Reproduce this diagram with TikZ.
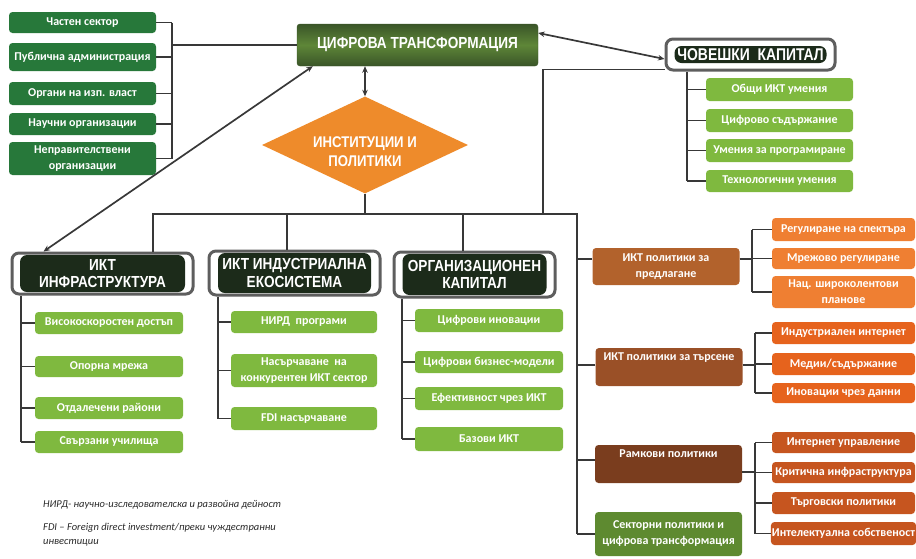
\documentclass[tikz,border=0pt]{standalone}
\usepackage{fontspec}
\setmainfont{Carlito}
\newfontfamily\hdrfam[FakeStretch=0.85]{Liberation Sans}
\newfontfamily\hdrfamw[FakeStretch=0.82]{Liberation Sans}
\usetikzlibrary{arrows.meta,shapes.geometric}
\definecolor{dgreen}{HTML}{27783A}
\definecolor{lgreen}{HTML}{7FB93F}
\definecolor{hdrdark}{HTML}{1C2B1A}
\definecolor{hdrgray}{HTML}{5E5E5E}
\definecolor{dttop}{HTML}{3A5528}
\definecolor{dtmid}{HTML}{5E8638}
\definecolor{dmorange}{HTML}{EE8B2B}
\definecolor{sorange}{HTML}{EF7F32}
\definecolor{pone}{HTML}{B2622C}
\definecolor{ptwo}{HTML}{9A5027}
\definecolor{pthree}{HTML}{7A3D1E}
\definecolor{pfour}{HTML}{5E8A30}
\definecolor{dorange}{HTML}{E6631D}
\definecolor{forange}{HTML}{C6551F}
\definecolor{lncol}{HTML}{383838}
\definecolor{fncol}{HTML}{2A2A2A}
\newcommand\bxf{\bfseries\fontsize{12}{16}\selectfont}
\newcommand\hdrf{\hdrfam\bfseries\fontsize{16}{17.5}\selectfont}
\newcommand\hcf{\hdrfamw\bfseries\fontsize{17}{19}\selectfont}
\newcommand\dmf{\hdrfam\bfseries\fontsize{15.5}{19}\selectfont}
\newcommand\fnf{\itshape\fontsize{10.5}{12}\selectfont}
\tikzset{
  ln/.style={draw=lncol, line width=1.7pt},
  arr/.style={{Stealth[length=6.5pt,width=5.5pt]}-{Stealth[length=6.5pt,width=5.5pt]}},
  bx/.style={rounded corners=3.5pt, text=white, font=\bxf, align=center, inner sep=1pt},
  dg/.style={bx, fill=dgreen, minimum width=147},
  lg/.style={bx, fill=lgreen, minimum width=147},
  so/.style={bx, fill=sorange, minimum width=143},
  do/.style={bx, fill=dorange, minimum width=143},
  fo/.style={bx, fill=forange, minimum width=143},
  pb/.style={bx, minimum width=147},
  hdr/.style 2 args={draw=hdrgray, line width=3pt, rounded corners=7pt, fill=white,
    text=white, font=\hdrf, align=center, inner sep=0pt,
    path picture={\fill[hdrdark] ([xshift=#1,yshift=-#2]path picture bounding box.north west)
      rectangle ([xshift=-#1,yshift=#2]path picture bounding box.south east);}},
  fn/.style={text=fncol, font=\fnf, anchor=west, inner sep=0pt}
}
\begin{document}
\begin{tikzpicture}[x=1pt,y=-1pt]
\useasboundingbox (0,0) rectangle (916,558);
% ---- top
\node[rounded corners=3pt, draw=dttop, top color=dttop, bottom color=dttop, middle color=dtmid,
  minimum width=241, minimum height=42, text=white, font=\hdrf, inner sep=0pt] (dt) at (417.5,45) {ЦИФРОВА ТРАНСФОРМАЦИЯ};
\node[diamond, fill=dmorange, minimum width=206, minimum height=97, inner sep=0pt] (inst) at (365,145) {};
\node[text=white, font=\dmf, align=center] (instt) at (365,152) {ИНСТИТУЦИИ И\\ПОЛИТИКИ};
% ---- left group
\node[dg, minimum height=21] (c1) at (82.5,22.5) {Частен сектор};
\node[dg, minimum height=28] (c2) at (82.5,57) {Публична администрация};
\node[dg, minimum height=23] (c3) at (82.5,93.5) {Органи на изп. власт};
\node[dg, minimum height=22] (c4) at (82.5,124) {Научни организации};
\node[dg, minimum height=33] (c5) at (82.5,158.5) {Неправителствени\\организации};
% ---- human capital
\node[hdr={8.5}{7}, font=\hcf, minimum width=169, minimum height=31] (hc) at (750.5,54.5) {ЧОВЕШКИ\ \ КАПИТАЛ};
\node[lg, minimum height=23] (h1) at (779.5,89.5) {Общи ИКТ умения};
\node[lg, minimum height=23] (h2) at (779.5,120.5) {Цифрово съдържание};
\node[lg, minimum height=23] (h3) at (779.5,150.5) {Умения за програмиране};
\node[lg, minimum height=22] (h4) at (779.5,181) {Технологични умения};
% ---- column headers
\node[hdr={8}{2}, minimum width=181, minimum height=41] (infra) at (102.5,273.5) {ИКТ\\ИНФРАСТРУКТУРА};
\node[hdr={9}{2}, minimum width=171, minimum height=44] (ind) at (294.5,273) {ИКТ ИНДУСТРИАЛНА\\ЕКОСИСТЕМА};
\node[hdr={8.5}{2}, minimum width=161, minimum height=45] (org) at (474.5,274.5) {ОРГАНИЗАЦИОНЕН\\КАПИТАЛ};
% ---- infra children
\node[lg, minimum width=148, minimum height=22] (i1) at (109,323) {Високоскоростен достъп};
\node[lg, minimum width=148, minimum height=21] (i2) at (109,366.5) {Опорна мрежа};
\node[lg, minimum width=148, minimum height=22] (i3) at (109,408) {Отдалечени райони};
\node[lg, minimum width=148, minimum height=22] (i4) at (109,442) {Свързани училища};
% ---- industry children
\node[lg, minimum width=146, minimum height=22] (n1) at (304,322) {НИРД\ \ програми};
\node[lg, minimum width=146, minimum height=33] (n2) at (304,370.5) {Насърчаване\ \ на\\конкурентен ИКТ сектор};
\node[lg, minimum width=146, minimum height=23] (n3) at (304,418.5) {FDI насърчаване};
% ---- org children
\node[lg, minimum width=148, minimum height=23] (o1) at (489,320.5) {Цифрови иновации};
\node[lg, minimum width=148, minimum height=22] (o2) at (489,362) {Цифрови бизнес-модели};
\node[lg, minimum width=148, minimum height=23] (o3) at (489,398.5) {Ефективност чрез ИКТ};
\node[lg, minimum width=148, minimum height=24] (o4) at (489,439) {Базови ИКТ};
% ---- policies
\node[pb, fill=pone, minimum height=37] (p1) at (666,266.5) {ИКТ политики за\\предлагане};
\node[pb, fill=ptwo, minimum height=38] (p2) at (669,367) {ИКТ политики за търсене\\\strut};
\node[pb, fill=pthree, minimum height=38] (p3) at (668.5,464) {Рамкови политики\\\strut};
\node[pb, fill=pfour, minimum height=44] (p4) at (668.5,534) {Секторни политики и\\цифрова трансформация};
\node[so, minimum height=23] (s1) at (843.5,229.5) {Регулиране на спектъра};
\node[so, minimum height=21] (s2) at (843.5,258.5) {Мрежово регулиране};
\node[so, minimum height=32] (s3) at (843.5,292) {Нац. широколентови\\планове};
\node[do, minimum height=22] (d1) at (843.5,333) {Индустриален интернет};
\node[do, minimum height=22] (d2) at (843.5,364) {Медии/съдържание};
\node[do, minimum height=20] (d3) at (843.5,393) {Иновации чрез данни};
\node[fo, minimum height=21] (f1) at (843.5,442.5) {Интернет управление};
\node[fo, minimum height=21] (f2) at (843.5,472.5) {Критична инфраструктура};
\node[fo, minimum height=22] (f3) at (843.5,503) {Търговски политики};
\node[fo, minimum height=23] (f4) at (843.5,533.5) {Интелектуална собственост};
% ---- footnotes
\node[fn] (fn1) at (43,505) {НИРД- научно-изследователска и развойна дейност};
\node[fn] (fn2) at (43,528) {FDI – Foreign direct investment/преки чуждестранни};
\node[fn] (fn3) at (43,543) {инвестиции};
% ---- connectors
\coordinate (lbus) at (172,0);
\foreach \n in {c1,c2,c3,c4,c5} \draw[ln] (\n.east) -- (\n.east -| lbus);
\draw[ln] (c1.east -| lbus) -- (c5.east -| lbus);
\draw[ln] (dt.west) -- (dt.west -| lbus);
\draw[ln, arr] (inst.north |- dt.south) -- (inst.north);
\draw[ln, arr] ([yshift=12]dt.east) -- ([yshift=-4.5]hc.west);
\draw[ln, arr] ([xshift=16]dt.south west) -- ([xshift=33]infra.north west);
\coordinate (bL) at (153,214);
\coordinate (bR) at (577,214);
\coordinate (hj) at (543,214);
\draw[ln] (bL |- infra.north) -- (bL) -- (bR) -- (bR |- p4.west);
\draw[ln] (inst.south) -- (inst.south |- bL);
\draw[ln] ([xshift=-7.5]ind.north) -- ([xshift=-7.5]ind.north |- bL);
\draw[ln] ([xshift=-11.5]org.north) -- ([xshift=-11.5]org.north |- bL);
\draw[ln] ([yshift=2]hc.south west) -| (hj);
% human capital bracket
\coordinate (hbus) at (687,0);
\draw[ln] (hbus |- hc.south) -- (hbus |- h4.west);
\foreach \n in {h1,h2,h3,h4} \draw[ln] (\n.west) -- (\n.west -| hbus);
% column brackets
\coordinate (ibus) at (21,0);
\draw[ln] (ibus |- infra.south) -- (ibus |- i4.west);
\foreach \n in {i1,i2,i3,i4} \draw[ln] (\n.west) -- (\n.west -| ibus);
\coordinate (nbus) at (218,0);
\draw[ln] (nbus |- ind.south) -- (nbus |- n3.west);
\foreach \n in {n1,n2,n3} \draw[ln] (\n.west) -- (\n.west -| nbus);
\coordinate (obus) at (402,0);
\draw[ln] (obus |- org.south) -- (obus |- o4.west);
\foreach \n in {o1,o2,o3,o4} \draw[ln] (\n.west) -- (\n.west -| obus);
% policy stubs
\draw[ln] ([yshift=7.5]p1.west) -- ([yshift=7.5]p1.west -| bR);
\draw[ln] ([yshift=2]p2.west) -- ([yshift=2]p2.west -| bR);
\draw[ln] ([yshift=4]p3.west) -- ([yshift=4]p3.west -| bR);
\draw[ln] (p4.west) -- (p4.west -| bR);
% policy brackets
\coordinate (sbus) at (752,0);
\draw[ln] ([yshift=7.5]p1.east) -- ([yshift=7.5]p1.east -| sbus);
\draw[ln] (sbus |- s1.west) -- (sbus |- s3.west);
\foreach \n in {s1,s2,s3} \draw[ln] (\n.west) -- (\n.west -| sbus);
\coordinate (dbus) at (755,0);
\draw[ln] ([yshift=2]p2.east) -- ([yshift=2]p2.east -| dbus);
\draw[ln] (dbus |- d1.west) -- (dbus |- d3.west);
\foreach \n in {d1,d2,d3} \draw[ln] (\n.west) -- (\n.west -| dbus);
\draw[ln] ([yshift=-8]p3.east) -- ([yshift=-8]p3.east -| dbus);
\draw[ln] (dbus |- f1.west) -- (dbus |- f4.west);
\foreach \n in {f1,f2,f3,f4} \draw[ln] (\n.west) -- (\n.west -| dbus);
\end{tikzpicture}
\end{document}
